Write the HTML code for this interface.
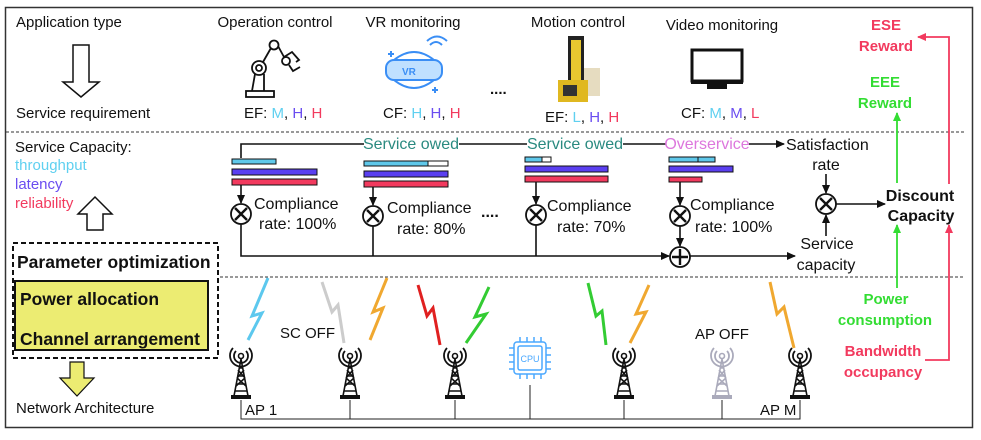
<!DOCTYPE html>
<html><head><meta charset="utf-8"><style>
html,body{margin:0;padding:0;background:#fff;}
svg{display:block;font-family:"Liberation Sans",Arial,sans-serif;}
</style></head><body>
<svg width="981" height="440" viewBox="0 0 981 440" xmlns="http://www.w3.org/2000/svg">
<defs>
<marker id="ab" markerWidth="10" markerHeight="10" refX="8" refY="5" orient="auto" markerUnits="userSpaceOnUse"><path d="M0,1 L9,5 L0,9 z" fill="#111"/></marker>
<marker id="ag" markerWidth="10" markerHeight="10" refX="8" refY="5" orient="auto" markerUnits="userSpaceOnUse"><path d="M0,1 L9,5 L0,9 z" fill="#33dd33"/></marker>
<marker id="ar" markerWidth="10" markerHeight="10" refX="8" refY="5" orient="auto" markerUnits="userSpaceOnUse"><path d="M0,1 L9,5 L0,9 z" fill="#f23a5e"/></marker>
<g id="tw">
<circle cx="0" cy="0" r="2.5" fill="none" stroke="currentColor" stroke-width="1.6"/>
<path d="M-5,-5 A7,7 0 1,0 5,-5 M-8,-8 A11,11 0 1,0 8,-8" fill="none" stroke="currentColor" stroke-width="1.8"/>
<path d="M0,3 L-7,40 M0,3 L7,40 M-2,12 H2 M-3.5,20 H3.5 M-5,28 H5 M-6,35 H6 M-3,14 L4,22 M3,14 L-4,22 M-4,22 L5,30 M4,22 L-5,30" stroke="currentColor" stroke-width="1.6" fill="none"/>
<rect x="-10" y="39" width="20" height="4" fill="currentColor"/>
</g>
</defs>
<rect x="5.5" y="7.5" width="967" height="420" fill="none" stroke="#333" stroke-width="1.5"/>
<line x1="6" y1="132" x2="965" y2="132" stroke="#333" stroke-dasharray="3,2" stroke-width="1"/>
<line x1="220" y1="277" x2="965" y2="277" stroke="#333" stroke-dasharray="3,2" stroke-width="1"/>

<g font-size="15" fill="#111">
<text x="16" y="27">Application type</text>
<text x="16" y="118">Service requirement</text>
<text x="275" y="27" text-anchor="middle">Operation control</text>
<text x="413" y="27" text-anchor="middle">VR monitoring</text>
<text x="578" y="27" text-anchor="middle">Motion control</text>
<text x="722" y="30" text-anchor="middle">Video monitoring</text>
<text x="244" y="118">EF: <tspan fill="#5fd0f0">M</tspan>, <tspan fill="#6a4df0">H</tspan>, <tspan fill="#f23a5e">H</tspan></text>
<text x="383" y="118">CF: <tspan fill="#5fd0f0">H</tspan>, <tspan fill="#6a4df0">H</tspan>, <tspan fill="#f23a5e">H</tspan></text>
<text x="545" y="122">EF: <tspan fill="#5fd0f0">L</tspan>, <tspan fill="#6a4df0">H</tspan>, <tspan fill="#f23a5e">H</tspan></text>
<text x="681" y="118">CF: <tspan fill="#5fd0f0">M</tspan>, <tspan fill="#6a4df0">M</tspan>, <tspan fill="#f23a5e">L</tspan></text>
<text x="490" y="94" font-weight="bold">....</text>
</g>
<path d="M73,45 H89 V82 H99 L81,97 L63,82 H73 Z" fill="#fff" stroke="#111" stroke-width="1.5"/>
<!-- robot -->
<g fill="none" stroke="#111" stroke-width="1.8">
<rect x="246" y="91" width="28" height="6"/><path d="M252,91 L255,74 M264,91 L264,74"/>
<circle cx="259" cy="68" r="7"/><circle cx="259" cy="68" r="3"/><path d="M263,62 L271,48"/><circle cx="274" cy="45" r="4.5"/><path d="M278,46 L284,57"/><circle cx="286" cy="61" r="4"/>
<path d="M284,57 L292,52 L299,60 L296,62 M289,65 L293,71 L300,67"/>
</g>
<!-- VR -->
<g fill="none" stroke="#3a8ef5" stroke-width="2">
<rect x="386" y="60" width="56" height="20" rx="8" fill="#bfe0ff"/>
<path d="M394,60 Q414,44 434,60 M394,80 Q414,96 434,80"/>
<path d="M388,54 h6 M391,51 v6 M432,90 h6 M435,87 v6"/>
<path d="M430,45 q6,-6 12,0 M427,41 q10,-9 20,0"/>
</g>
<text x="402" y="75" font-size="10" font-weight="bold" fill="#3a8ef5">VR</text>
<!-- motion control device -->
<rect x="568" y="36" width="16" height="56" fill="#222"/>
<rect x="571" y="40" width="10" height="44" fill="#e8c830"/>
<rect x="584" y="68" width="16" height="28" fill="#e6dcc0"/>
<rect x="558" y="80" width="30" height="22" fill="#e0b820"/>
<rect x="563" y="85" width="14" height="11" fill="#333"/>
<!-- monitor -->
<rect x="692" y="50" width="50" height="31" fill="#fff" stroke="#111" stroke-width="3"/>
<rect x="691" y="80" width="52" height="4" fill="#111"/>
<rect x="707" y="84" width="20" height="5" fill="#111"/>

<g font-size="15" font-weight="bold" text-anchor="middle">
<text x="886" y="30" fill="#f23a5e">ESE</text><text x="886" y="51" fill="#f23a5e">Reward</text>
<text x="885" y="87" fill="#33dd33">EEE</text><text x="885" y="108" fill="#33dd33">Reward</text>
<text x="920" y="201" fill="#111" font-size="16">Discount</text><text x="921" y="221" fill="#111" font-size="16">Capacity</text>
<text x="886" y="304" fill="#33dd33">Power</text><text x="885" y="325" fill="#33dd33">consumption</text>
<text x="883" y="356" fill="#f23a5e">Bandwidth</text><text x="883" y="377" fill="#f23a5e">occupancy</text>
</g>
<path d="M949,184 V37 H918" fill="none" stroke="#f23a5e" stroke-width="1.8" marker-end="url(#ar)"/>
<path d="M897,183 V113" fill="none" stroke="#33dd33" stroke-width="1.8" marker-end="url(#ag)"/>
<path d="M897,288 V225" fill="none" stroke="#33dd33" stroke-width="1.8" marker-end="url(#ag)"/>
<path d="M925,360 H949 V225" fill="none" stroke="#f23a5e" stroke-width="1.8" marker-end="url(#ar)"/>

<g font-size="15">
<text x="15" y="152" fill="#111">Service Capacity:</text>
<text x="15" y="170" fill="#5fd0f0">throughput</text>
<text x="15" y="189" fill="#6a4df0">latency</text>
<text x="15" y="208" fill="#f23a5e">reliability</text>
</g>
<path d="M87,230 V214 H78 L95,197 L112,214 H103 V230 Z" fill="#fff" stroke="#111" stroke-width="1.5"/>
<rect x="13" y="243" width="205" height="115" fill="none" stroke="#111" stroke-width="2" stroke-dasharray="5,3"/>
<rect x="15" y="281" width="193" height="69" fill="#ecec72" stroke="#111" stroke-width="2"/>
<g font-size="17.5" font-weight="bold" fill="#111">
<text x="17" y="268">Parameter optimization</text>
<text x="20" y="305">Power allocation</text>
<text x="20" y="345">Channel arrangement</text>
</g>
<path d="M70,362 H84 V378 H94 L77,396 L60,378 H70 Z" fill="#ecec72" stroke="#111" stroke-width="1.2"/>
<text x="16" y="413" font-size="15" fill="#111">Network Architecture</text>

<path d="M241,158 V144 H364 M459,144 H527 M623,144 H666" fill="none" stroke="#111" stroke-width="1.6"/>
<path d="M749,144 H784" stroke="#111" stroke-width="1.6" marker-end="url(#ab)"/>
<g font-size="16">
<text x="411" y="149" text-anchor="middle" fill="#2a8a80">Service owed</text>
<text x="575" y="149" text-anchor="middle" fill="#2a8a80">Service owed</text>
<text x="707" y="149" text-anchor="middle" fill="#dd77dd">Overservice</text>
<text x="786" y="150" fill="#111">Satisfaction</text>
<text x="826" y="170" text-anchor="middle" fill="#111">rate</text>
<text x="827" y="249" text-anchor="middle" fill="#111">Service</text>
<text x="826" y="270" text-anchor="middle" fill="#111">capacity</text>
</g>
<g stroke="#111" stroke-width="1">
<rect x="232" y="159" width="44" height="5" fill="#5fc8ea"/><rect x="232" y="169" width="85" height="6" fill="#5a3ff0"/><rect x="232" y="179" width="85" height="6" fill="#f23a5e"/>
<rect x="364" y="161" width="64" height="5" fill="#5fc8ea"/><rect x="428" y="161" width="20" height="5" fill="#fff"/><rect x="364" y="171" width="84" height="6" fill="#5a3ff0"/><rect x="364" y="181" width="84" height="6" fill="#f23a5e"/>
<rect x="525" y="157" width="17" height="5" fill="#5fc8ea"/><rect x="542" y="157" width="9" height="5" fill="#fff"/><rect x="525" y="166" width="83" height="6" fill="#5a3ff0"/><rect x="525" y="176" width="83" height="6" fill="#f23a5e"/>
<rect x="669" y="157" width="29" height="5" fill="#5fc8ea"/><rect x="698" y="157" width="17" height="5" fill="#5fc8ea"/><rect x="669" y="166" width="64" height="6" fill="#5a3ff0"/><rect x="669" y="177" width="33" height="5" fill="#f23a5e"/>
</g>
<g stroke="#111" stroke-width="1.6" fill="none">
<path d="M241,185 V203" marker-end="url(#ab)"/><path d="M373,187 V205" marker-end="url(#ab)"/><path d="M536,182 V204" marker-end="url(#ab)"/><path d="M680,182 V205" marker-end="url(#ab)"/>
<path d="M241,224 V256 H669" marker-end="url(#ab)"/><path d="M373,226 V256 M536,225 V256"/>
<path d="M680,226 V246" marker-end="url(#ab)"/>
<path d="M690,256 H795" marker-end="url(#ab)"/>
<path d="M826,174 V193" marker-end="url(#ab)"/><path d="M826,236 V215" marker-end="url(#ab)"/>
<path d="M836,204 H885" marker-end="url(#ab)"/>
</g>
<g stroke="#111" stroke-width="1.8" fill="#fff">
<circle cx="241" cy="214" r="10"/><circle cx="373" cy="216" r="10"/><circle cx="536" cy="215" r="10"/><circle cx="680" cy="216" r="10"/><circle cx="826" cy="204" r="10"/><circle cx="680" cy="257" r="10"/>
</g>
<g stroke="#111" stroke-width="2.4">
<path d="M235,208 l12,12 M247,208 l-12,12 M367,210 l12,12 M379,210 l-12,12 M530,209 l12,12 M542,209 l-12,12 M674,210 l12,12 M686,210 l-12,12 M820,198 l12,12 M832,198 l-12,12 M680,249 v16 M672,257 h16"/>
</g>
<g font-size="16" fill="#111">
<text x="254" y="209">Compliance</text><text x="259" y="229">rate: 100%</text>
<text x="387" y="213">Compliance</text><text x="397" y="234">rate: 80%</text>
<text x="547" y="211">Compliance</text><text x="557" y="232">rate: 70%</text>
<text x="690" y="210">Compliance</text><text x="695" y="232">rate: 100%</text>
<text x="481" y="217" font-weight="bold">....</text>
</g>

<path d="M241,400 V419 H800 V400 M350,400 V419 M455,400 V419 M624,400 V419 M722,400 V419 M530,385 V419" fill="none" stroke="#222" stroke-width="1"/>
<g color="#111">
<use href="#tw" x="241" y="356"/><use href="#tw" x="350" y="356"/><use href="#tw" x="455" y="356"/><use href="#tw" x="624" y="356"/><use href="#tw" x="800" y="356"/>
</g>
<g color="#aab"><use href="#tw" x="722" y="356"/></g>
<g fill="none" stroke="#4aa8ff" stroke-width="1.5">
<rect x="514" y="342" width="32" height="32" rx="3"/><rect x="518" y="346" width="24" height="24" rx="2"/>
<path d="M520,342 v-5 M527,342 v-5 M534,342 v-5 M541,342 v-5 M520,374 v5 M527,374 v5 M534,374 v5 M541,374 v5 M514,348 h-5 M514,355 h-5 M514,362 h-5 M514,369 h-5 M546,348 h5 M546,355 h5 M546,362 h5 M546,369 h5"/>
</g>
<text x="530" y="362" font-size="9" fill="#4aa8ff" text-anchor="middle">CPU</text>
<g fill="none" stroke-width="3" stroke-linejoin="miter">
<path d="M268,278 L252,316 L262,313 L248,340" stroke="#5cc8ee"/>
<path d="M322,282 L332,312 L338,305 L344,343" stroke="#ccc"/>
<path d="M387,278 L373,312 L383,308 L370,340" stroke="#f0a830"/>
<path d="M418,285 L427,316 L433,308 L440,345" stroke="#e02020"/>
<path d="M489,287 L475,317 L486,314 L466,343" stroke="#33cc33"/>
<path d="M588,283 L596,316 L602,311 L606,345" stroke="#33cc33"/>
<path d="M649,285 L636,314 L646,312 L630,343" stroke="#f0a830"/>
<path d="M770,282 L777,314 L784,307 L794,348" stroke="#f0a830"/>
</g>
<g font-size="15" fill="#111">
<text x="245" y="415">AP 1</text>
<text x="280" y="338">SC OFF</text>
<text x="695" y="339">AP OFF</text>
<text x="760" y="415">AP M</text>
</g>
</svg>
</body></html>
